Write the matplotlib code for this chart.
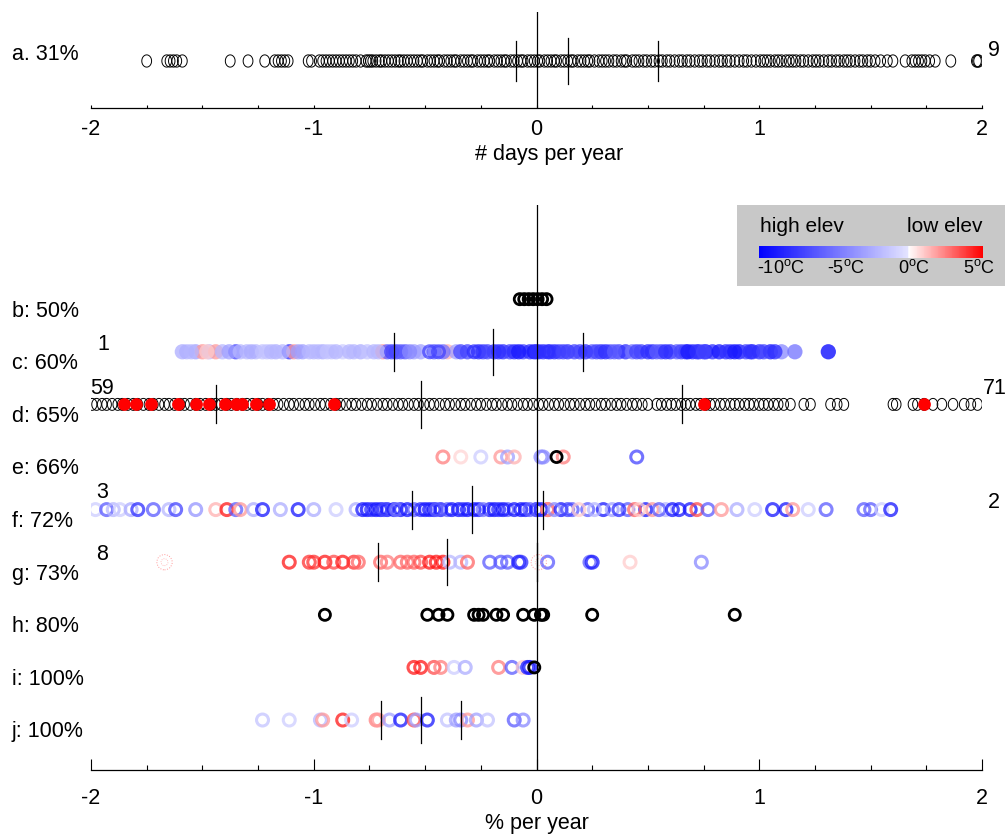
import numpy as np
import matplotlib
matplotlib.use('Agg')
import matplotlib.pyplot as plt
from matplotlib.path import Path
from matplotlib.patches import Rectangle
from matplotlib.colors import LinearSegmentedColormap, Normalize
from matplotlib.cm import ScalarMappable
from matplotlib.ticker import MultipleLocator

plt.rcParams['font.family'] = ['Liberation Sans', 'DejaVu Sans']
plt.rcParams['axes.unicode_minus'] = False
plt.rcParams['mathtext.fontset'] = 'custom'
plt.rcParams['mathtext.rm'] = 'Liberation Sans'

# ---------------- data ----------------
# panel a: trend in # days per year
days_a = [-1.75, -1.66, -1.645, -1.63, -1.615, -1.59, -1.375, -1.295, -1.22, -1.175, -1.16, -1.145,
          -1.13, -1.115, -1.025, -1.01,
          -0.975, -0.96, -0.945, -0.93, -0.915, -0.90, -0.885, -0.87, -0.855, -0.84, -0.825, -0.81,
          -0.79, -0.765, -0.755, -0.745, -0.735, -0.72, -0.705, -0.695, -0.68, -0.665, -0.65, -0.635,
          -0.62, -0.61, -0.595, -0.58, -0.565,
          -0.55, -0.535, -0.52, -0.51, -0.49, -0.475, -0.46, -0.445, -0.435, -0.415, -0.40, -0.385,
          -0.37, -0.36, -0.34, -0.325, -0.31, -0.295, -0.285, -0.265, -0.25, -0.235, -0.22, -0.21,
          -0.19, -0.175, -0.16, -0.145, -0.135, -0.115, -0.10, -0.085, -0.07, -0.06, -0.04, -0.025,
          -0.01, 0.005, 0.015, 0.035, 0.05, 0.065, 0.08, 0.09, 0.11, 0.125, 0.14, 0.155, 0.165,
          0.185, 0.20, 0.215, 0.23, 0.24, 0.26, 0.28, 0.295, 0.31, 0.325, 0.345, 0.36, 0.38, 0.395,
          0.405, 0.43, 0.445, 0.46, 0.48, 0.495, 0.515, 0.53, 0.55, 0.565, 0.585, 0.60, 0.62, 0.64,
          0.655, 0.675, 0.69, 0.71, 0.73, 0.745, 0.765, 0.78, 0.80, 0.82, 0.835, 0.855, 0.87, 0.89,
          0.91, 0.93, 0.945, 0.965, 0.985,
          1.005, 1.02, 1.035, 1.05, 1.07, 1.085, 1.10, 1.12, 1.135, 1.15, 1.165, 1.185, 1.20, 1.22,
          1.24, 1.255, 1.27, 1.29, 1.31, 1.325, 1.345, 1.36, 1.38, 1.395, 1.41, 1.43, 1.45, 1.465,
          1.485, 1.50, 1.52, 1.545, 1.575, 1.60, 1.655, 1.685, 1.70, 1.715, 1.73, 1.745, 1.765,
          1.79, 1.86, 1.975, 1.98, 1.985]
quart_a = [-0.09, 0.14, 0.545]

# panels b-j: % per year
b_black = [-0.075, -0.055, -0.035, -0.015, 0.005, 0.025, 0.045]

c_x = [-1.57, -1.53, -1.50, -1.47, -1.44, -1.41, -1.35, -1.30, -1.26, -1.21, -1.17, -1.11, -1.09,
       -1.05, -1.00, -0.96, -0.92, -0.87, -0.84, -0.79, -0.76, -0.73, -0.69, -0.67, -0.63, -0.59,
       -0.55, -0.52, -0.40, -0.36, -0.31, -0.24, -0.19, -0.15, -0.12, -0.10, -0.06, -0.03, -0.01,
       0.03, 0.06, 0.10, 0.14, 0.17, 0.195, 0.25, 0.29, 0.33, 0.37, 0.40, 0.43, 0.47, 0.52, 0.56,
       0.60, 0.63, 0.67, 0.70, 0.73, 0.76, 0.79, 0.82, 0.87, 0.91, 0.94, 0.97, 1.00, 1.05, 1.10,
       1.16, 1.31,
       -1.59, -1.55, -1.48, -1.38, -1.33, -1.28, -1.23, -1.19, -1.14, -1.07, -1.02, -0.98, -0.94,
       -0.90, -0.82, -0.71, -0.65, -0.61, -0.57,
       -0.46, -0.42, -0.34, -0.26, -0.22, -0.17, -0.08, 0.01,
       0.08, 0.12, 0.22, 0.27, 0.31, 0.35, 0.45, 0.50, 0.54, 0.58, 0.65, 0.68, 0.72, 0.75, 0.85,
       0.89, 0.96, 1.02, 1.07]
c_t = [-2, -3, 2, -2, 2, -2, -7, -2, -2, -1.5, -2.5, -8, 2, -3, -2, -2.5, -1.5, -1, -2, -2.5, -1.5,
       -2, 2, -6, -7, -6, -3, -3, 1.5, -3, -7, -7, -8, -8, -7, -8, -7, -8, -9, -8, -8, -7, -8, -7,
       -7, -6, -8, -6, -7, -8, -5, -7, -8, -7, -8, -6, -8, -8, -7, -9, -8, -9, -8, -9, -7, -8, -8,
       -9, -4, -5, -10,
       -2.5, -2, 1, -3, -2, -2.5, -1.5, -2, -2, -3, -2, -2, -1.5, -2, -2, -2, -7, -6, -4,
       -6, -5, -7, -8, -7, -8, -9, -8,
       -8, -7, -8, -7, -8, -6, -7, -8, -6, -8, -7, -9, -8, -7, -8, -9, -8, -7, -8]
c_ring_x = [-0.48, -0.44, -0.28, 0.0, 0.05]
c_ring_t = [-7, -7, -8, -8, -8]
quart_c = [-0.64, -0.195, 0.21]

d_black = [-1.995, -1.975, -1.95, -1.93, -1.905, -1.88, -1.86, -1.835, -1.81, -1.79, -1.765, -1.74,
           -1.72, -1.695, -1.67, -1.65, -1.625, -1.60, -1.58, -1.555, -1.53, -1.51, -1.485, -1.46,
           -1.44, -1.415, -1.39, -1.37, -1.345, -1.32, -1.30, -1.275, -1.25, -1.23, -1.205, -1.18,
           -1.16, -1.135, -1.11, -1.09, -1.065, -1.04, -1.02, -0.995, -0.97, -0.95, -0.925, -0.90,
           -0.88, -0.855, -0.83, -0.81, -0.785, -0.76, -0.74, -0.715, -0.69, -0.67, -0.645, -0.62,
           -0.60, -0.575, -0.55, -0.53, -0.505, -0.48, -0.46, -0.435, -0.41, -0.39, -0.365, -0.34,
           -0.32, -0.295, -0.27, -0.25, -0.225, -0.20, -0.18, -0.155, -0.13, -0.11, -0.085, -0.06,
           -0.04, -0.015, 0.01, 0.03, 0.055, 0.08, 0.10, 0.125, 0.15, 0.17, 0.195, 0.22, 0.24,
           0.265, 0.29, 0.31, 0.335, 0.36, 0.38, 0.405, 0.43, 0.45, 0.475, 0.50,
           0.54, 0.56, 0.585, 0.605, 0.625, 0.65, 0.67, 0.69, 0.715, 0.735, 0.76, 0.78, 0.80,
           0.825, 0.845, 0.87, 0.89, 0.91, 0.935, 0.955, 0.975, 1.00, 1.02, 1.04, 1.065, 1.085,
           1.11, 1.14, 1.20, 1.23, 1.32, 1.35, 1.38, 1.60, 1.615, 1.69, 1.71, 1.74, 1.78, 1.82,
           1.87, 1.92, 1.95, 1.98]
d_red = [-1.85, -1.80, -1.73, -1.61, -1.53, -1.47, -1.40, -1.35, -1.32, -1.26, -1.20, -0.91, 0.75, 1.74]
quart_d = [-1.44, -0.52, 0.655]

e_x = [-0.42, -0.34, -0.25, -0.16, -0.13, -0.10, 0.02, 0.03, 0.12, 0.45]
e_t = [2.5, 0.8, -1, 2, -3, 1.5, -4, -4, 2.5, -7]
e_black = [0.09]

f_x = [-1.98, -1.93, -1.90, -1.87, -1.82, -1.79, -1.72, -1.65, -1.62, -1.53, -1.44, -1.39, -1.35,
       -1.33, -1.27, -1.23, -1.15, -1.07, -1.00, -0.90, -0.81, -0.76, -0.70, -0.67, -0.61, -0.55,
       -0.48, -0.43, -0.40, -0.35, -0.28, -0.21, -0.13, -0.10, -0.07, 0.00, 0.00, 0.05, 0.05, 0.11,
       0.16, 0.23, 0.30, 0.34, 0.41, 0.49, 0.52, 0.58, 0.64, 0.69, 0.72, 0.77, 0.83, 0.90, 0.98,
       1.06, 1.12, 1.15, 1.22, 1.30, 1.47, 1.50, 1.55, 1.59,
       -0.78, -0.74, -0.72, -0.685, -0.64, -0.63, -0.58, -0.52, -0.50, -0.46, -0.45, -0.38, -0.33,
       -0.31, -0.26, -0.24, -0.19, -0.17, -0.15, -0.05, -0.03, 0.02,
       0.08, 0.14, 0.19, 0.26, 0.37, 0.44, 0.46, 0.55, 0.61]
f_t = [-1, -6, -2, -1, -2.5, -8, -6, -2, -7, -3.5, 1.5, 4.5, -6, 2, -2.5, -9, -2.5, -9, -2.5, -1,
       -2.5, -9, -9, -9, -9, -6, -9, -9, -6, -9, -9, -9, -6, -9, -9, -9, -6, 4.5, 2, -9, -6, -6,
       -9, -3, -6, -9, 2, -2, -9, -9, 3.5, -6, 2, -2.5, -1, -9, -9, 2, -1, -6, -6, -6, -1, -9,
       -9, -8, -9, -7, -9, -5, -9, -8, -9, -9, -6, -9, -8, -9, -9, -5, -9, -8, -9, -9, -6, -9,
       -4, -7, 1, -2, -8, 3, 1, -6, -9]
quart_f = [-0.56, -0.29, 0.03]

g_x = [-1.11, -1.02, -1.00, -0.95, -0.91, -0.87, -0.82, -0.80, -0.70, -0.67, -0.61, -0.58, -0.55,
       -0.52, -0.48, -0.45, -0.42, -0.39, -0.34, -0.31, -0.21, -0.16, -0.13, -0.08, -0.07, 0.05,
       0.24, 0.25, 0.42, 0.74]
g_t = [4.5, 4, 4, 4.5, 3.5, 4.5, 4, 3, 3, 2.5, 3, 3, 3, 3.5, 4.5, 4.5, 4.5, -2, -2, 3, -6, -6, -6,
       -9, -8, -6, -6, -9, 1, -4]
g_faint = [-1.67, 0.01]
quart_g = [-0.71, -0.40, 0.0]

h_black = [-0.95, -0.49, -0.44, -0.40, -0.28, -0.26, -0.24, -0.18, -0.15, -0.06, -0.01, 0.02,
           0.03, 0.25, 0.89]

i_x = [-0.55, -0.52, -0.46, -0.43, -0.37, -0.32, -0.17, -0.11, -0.06, -0.04, -0.03]
i_t = [4.5, 4.5, 3.5, 2.5, -1, -2.5, 2.5, -6, 1, -9, -9]
i_black = [-0.01]

j_x = [-1.23, -1.11, -0.97, -0.96, -0.87, -0.83, -0.72, -0.71, -0.66, -0.61, -0.55, -0.54, -0.49,
       -0.40, -0.36, -0.34, -0.31, -0.27, -0.22, -0.10, -0.06]
j_t = [-1.5, -1, -2, 2, 4.5, -1, 2.5, 2, -3, -9, 3.5, -3, -9, -1.5, -3, -4, 2, -3, -1.5, -6, -4]
quart_j = [-0.70, -0.52, -0.34]

row_labels = ['b: 50%', 'c: 60%', 'd: 65%', 'e: 66%', 'f: 72%', 'g: 73%', 'h: 80%', 'i: 100%', 'j: 100%']
row_y = [8, 7, 6, 5, 4, 3, 2, 1, 0]

# ---------------- figure ----------------
W, H = 1005, 834
fig = plt.figure(figsize=(W / 100, H / 100), dpi=100)
FS = 15.5

def ftext(x, y, s, **kw):
    fig.text(x / W, 1 - y / H, s, fontsize=kw.pop('fontsize', FS), **kw)

cmap = LinearSegmentedColormap.from_list(
    'elev', [(0, '#0000ff'), (0.666, '#e4e4ff'), (0.667, '#ffffff'), (1, '#ff0000')])
norm = Normalize(-10, 5)

t = np.linspace(0, 2 * np.pi, 61)
ellipse = Path(np.column_stack([0.8 * np.cos(t), np.sin(t)]))

def style_axis(a, major_len, minor_len, pad):
    for s in ['top', 'left', 'right']:
        a.spines[s].set_visible(False)
    a.spines['bottom'].set_linewidth(0.9)
    a.set_xlim(-2, 2)
    a.set_xticks([-2, -1, 0, 1, 2])
    a.xaxis.set_minor_locator(MultipleLocator(0.25))
    a.tick_params(axis='x', which='major', direction='in', length=major_len, width=0.8,
                  labelsize=FS, pad=pad)
    a.tick_params(axis='x', which='minor', direction='in', length=minor_len, width=0.8)
    a.set_yticks([])
    a.axvline(0, color='k', lw=0.9, zorder=5)

def quartiles(a, y, q):
    for k, v in enumerate(q):
        h = 0.44 if k == 1 else 0.36
        a.plot([v, v], [y - h, y + h], color='k', lw=0.9, zorder=6)

# ---- panel a ----
ax_a = fig.add_axes([91 / W, 1 - 107.5 / H, 891 / W, 95.5 / H])
style_axis(ax_a, 2.5, 2.5, 8.5)
ax_a.scatter(days_a, np.zeros(len(days_a)), s=8.8 ** 2, marker=ellipse,
             facecolors='none', edgecolors='k', linewidths=0.7, zorder=3)
ax_a.set_ylim(-0.487, 0.513)
for k, v in enumerate(quart_a):
    h = 0.24 if k == 1 else 0.205
    ax_a.plot([v, v], [-h, h], color='k', lw=0.9, zorder=6)
ax_a.set_xlabel('# days per year', fontsize=FS)
ax_a.xaxis.set_label_coords(0.514, -0.38)
ftext(12, 54, 'a. 31%', va='center')
ftext(988, 51, '9', va='center')

# ---- panels b-j ----
ax = fig.add_axes([91 / W, 1 - 770 / H, 891 / W, 565 / H])
style_axis(ax, 8, 3.6, 13)
ax.set_ylim(-0.95, 9.79)

ring_s = 8.6 ** 2
ring_lw = 2.2

def rings(x, temps, y):
    ax.scatter(x, [y] * len(x), s=ring_s, facecolors='none', edgecolors=cmap(norm(temps)),
               linewidths=ring_lw, alpha=0.75, zorder=3)

def black_rings(x, y):
    ax.scatter(x, [y] * len(x), s=8.0 ** 2, facecolors='none', edgecolors='k',
               linewidths=2.0, zorder=4)

# b
black_rings(b_black, 8)
# c
ax.scatter(c_x, [7] * len(c_x), s=11 ** 2, c=c_t, cmap=cmap, norm=norm, linewidths=0,
           alpha=0.75, zorder=3)
rings(c_ring_x, c_ring_t, 7)
quartiles(ax, 7, quart_c)
# d
ax.scatter(d_black, [6] * len(d_black), s=8.6 ** 2, marker=ellipse, facecolors='none',
           edgecolors='k', linewidths=0.7, zorder=3)
ax.scatter(d_red, [6] * len(d_red), s=9.2 ** 2, color='#ff0000', linewidths=0, zorder=4)
quartiles(ax, 6, quart_d)
# e
rings(e_x, e_t, 5)
black_rings(e_black, 5)
# f
rings(f_x, f_t, 4)
quartiles(ax, 4, quart_f)
# g
rings(g_x, g_t, 3)
ax.scatter(g_faint, [3] * len(g_faint), s=11 ** 2, facecolors='none', edgecolors='#ff9999',
           linewidths=0.7, linestyle=':', zorder=3)
ax.scatter(g_faint, [3] * len(g_faint), s=5 ** 2, facecolors='none', edgecolors='#ffaaaa',
           linewidths=0.6, linestyle=':', zorder=3)
quartiles(ax, 3, quart_g)
# h
black_rings(h_black, 2)
# i
rings(i_x, i_t, 1)
black_rings(i_black, 1)
# j
rings(j_x, j_t, 0)
quartiles(ax, 0, quart_j)

ax.set_xlabel('% per year', fontsize=FS)
ax.xaxis.set_label_coords(0.5, -0.076)

for lab, yv in zip(row_labels, row_y):
    ftext(12, 720 - 52.6 * yv + 12, lab, va='center')

ftext(97, 345, '1', va='center')
ftext(90, 388, '59', va='center')
ftext(983, 388, '71', va='center')
ftext(96, 492, '3', va='center')
ftext(988, 502, '2', va='center')
ftext(96, 555, '8', va='center')

# ---- colour key ----
fig.patches.append(Rectangle((737 / W, 1 - 286 / H), 268 / W, 81 / H, transform=fig.transFigure,
                             facecolor='#c8c8c8', edgecolor='none', zorder=10))
cax = fig.add_axes([759 / W, 1 - 258 / H, 224 / W, 12 / H], zorder=11)
cb = fig.colorbar(ScalarMappable(norm=norm, cmap=cmap), cax=cax, orientation='horizontal')
cb.outline.set_visible(False)
cax.set_xticks([])
fig.text(760 / W, 1 - 226 / H, 'high elev', fontsize=15, va='center', zorder=12)
fig.text(982 / W, 1 - 226 / H, 'low elev', fontsize=15, va='center', ha='right', zorder=12)
for lab, xp in [('-10', 781), ('-5', 846), ('0', 914), ('5', 979)]:
    fig.text(xp / W, 1 - 268 / H, lab + r'$^{\rm o}$C', fontsize=13, va='center', ha='center',
             zorder=12)

fig.savefig('out.png', dpi=100)
